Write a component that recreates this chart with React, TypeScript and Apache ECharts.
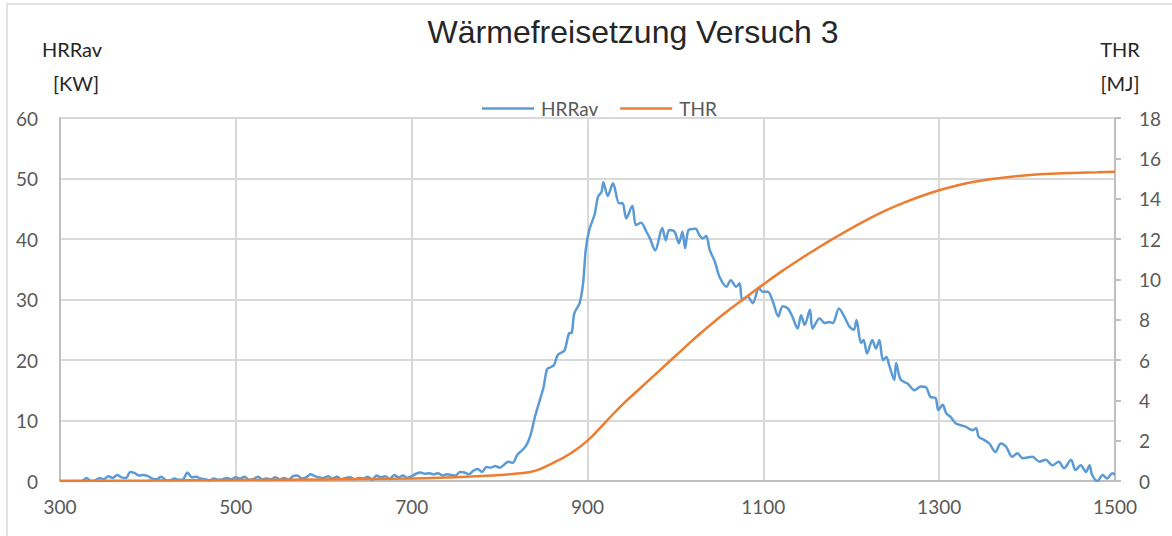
import React, { useEffect, useRef } from "react";
import * as echarts from "echarts";

const titleText = "Wärmefreisetzung Versuch 3";
const leftAxisName = ["HRRav", "[KW]"];
const rightAxisName = ["THR", "[MJ]"];
const seriesNames = ["HRRav", "THR"];

const hrrTime = [
  300, 305, 310, 315, 320, 325, 330, 335, 340, 345, 350, 355, 360, 365, 370, 375, 380, 385, 390, 395,
  400, 405, 410, 415, 420, 425, 430, 435, 440, 445, 450, 455, 460, 465, 470, 475, 480, 485, 490, 495,
  500, 505, 510, 515, 520, 525, 530, 535, 540, 545, 550, 555, 560, 565, 570, 575, 580, 585, 590, 595,
  600, 605, 610, 615, 620, 625, 630, 635, 640, 645, 650, 655, 660, 665, 670, 675, 680, 685, 690, 695,
  700, 705, 710, 715, 720, 725, 730, 735, 740, 745, 750, 755, 760, 765, 770, 775, 780, 785, 790, 795,
  800, 805, 810, 815, 820, 825, 830, 835, 840, 845, 850, 854, 858, 862, 866, 870, 874, 879, 882, 885,
  891, 895, 898, 902, 908, 912, 916, 918, 923, 929, 936, 940, 944, 951, 955, 961, 967, 971, 977, 985,
  989, 993, 999, 1004, 1008, 1011, 1015, 1023, 1027, 1031, 1035, 1039, 1045, 1050, 1058, 1063, 1069, 1073, 1076, 1082,
  1088, 1095, 1099, 1105, 1111, 1117, 1122, 1128, 1133, 1139, 1143, 1147, 1153, 1156, 1164, 1170, 1175, 1179, 1186, 1192,
  1198, 1203, 1206, 1211, 1214, 1218, 1224, 1228, 1232, 1236, 1240, 1243, 1249, 1251, 1256, 1264, 1272, 1279, 1285, 1290,
  1296, 1299, 1304, 1308, 1313, 1319, 1330, 1338, 1342, 1345, 1351, 1357, 1364, 1370, 1376, 1383, 1389, 1395, 1406, 1414,
  1421, 1429, 1436, 1442, 1450, 1455, 1461, 1467, 1471, 1474, 1480, 1486, 1491, 1497, 1500,
];
const hrrValue = [
  0, 0, 0, 0, 0, 0, 0.5, 0, 0.1, 0.5, 0.3, 0.8, 0.5, 1.0, 0.6, 0.5, 1.5, 1.3, 0.9, 1.0,
  0.8, 0.4, 0.3, 0.7, 0.2, 0.1, 0.4, 0.2, 0.3, 1.4, 0.6, 0.7, 0.4, 0.3, 0.1, 0.4, 0.2, 0.3, 0.5, 0.3,
  0.6, 0.4, 0.7, 0.2, 0.3, 0.7, 0.3, 0.4, 0.3, 0.6, 0.3, 0.5, 0.2, 0.8, 0.9, 0.4, 0.6, 1.1, 0.8, 0.6,
  0.5, 0.8, 0.4, 0.7, 0.3, 0.5, 0.6, 0.3, 0.5, 0.4, 0.7, 0.2, 0.9, 0.6, 0.8, 0.3, 1.0, 0.6, 0.9, 0.5,
  0.8, 1.2, 1.4, 1.2, 1.3, 1.1, 1.3, 0.9, 1.1, 1.0, 0.9, 1.5, 1.4, 1.1, 1.7, 2.0, 1.5, 2.3, 2.2, 2.5,
  2.2, 2.7, 3.2, 3.0, 4.3, 5.0, 5.8, 7.5, 10.5, 13.0, 15.5, 18.5, 18.8, 19.2, 20.8, 21.2, 21.6, 24.4, 24.5, 27.7,
  29.4, 32.7, 38.2, 41.5, 44, 47, 47.8, 49.4, 47.1, 49.2, 45.9, 45.9, 43.4, 45.5, 42.3, 42.7, 41.2, 40.1, 38.1, 41.8,
  39.8, 41.5, 41.2, 39.3, 41.2, 38.5, 41.5, 41.7, 40.7, 40.1, 40.5, 38.2, 36.2, 33.8, 32.1, 33.2, 32.1, 32.7, 29.9, 30.5,
  29.4, 31.9, 31.3, 31.3, 29.6, 27.2, 28.9, 28.5, 27.2, 25.2, 27.4, 25.8, 28.3, 25.2, 26.9, 26.1, 26.3, 26.1, 28.5, 27.2,
  25.5, 25, 26.6, 22.8, 23.3, 21.1, 23.3, 21.9, 23.3, 20, 20.5, 19.2, 16.7, 19.5, 16.8, 16.1, 15, 15.6, 15.5, 13.9,
  13.7, 11.7, 12.6, 11.2, 10.6, 9.5, 9, 8.4, 8.7, 7.3, 6.8, 6.2, 4.8, 6.2, 5.7, 4, 4.6, 3.75, 4, 3.2,
  3.5, 2.6, 3.2, 2.1, 3.5, 1.8, 2.6, 1.5, 2.6, 1, 0, 1, 0.4, 1.3, 1,
];

const thrTime = [
  300, 400, 500, 600, 700, 750, 800, 820, 840, 860, 880, 900, 920, 940, 960, 980, 1000, 1020, 1040, 1060,
  1080, 1100, 1120, 1140, 1160, 1180, 1200, 1220, 1240, 1260, 1280, 1300, 1320, 1340, 1360, 1380, 1400, 1420, 1440, 1460,
  1480, 1500,
];
const thrValue = [
  0, 0.02, 0.05, 0.08, 0.13, 0.18, 0.3, 0.37, 0.5, 0.88, 1.35, 2.0, 2.9, 3.8, 4.6, 5.4, 6.2, 7.0, 7.75, 8.45,
  9.1, 9.75, 10.37, 10.95, 11.5, 12.03, 12.53, 13.0, 13.43, 13.8, 14.13, 14.42, 14.65, 14.84, 14.98, 15.08, 15.16, 15.22, 15.26, 15.29,
  15.31, 15.33,
];

export default function App() {
  const ref = useRef<HTMLDivElement>(null);
  useEffect(() => {
    if (!ref.current) return;
    const chart = echarts.init(ref.current, null, { renderer: "svg" });
    const font = "Lato, 'Noto Sans', sans-serif";
    const labelColor = "#595959";
    const axisColor = "#BFBFBF";
    const gridColor = "#D9D9D9";
    chart.setOption({
      animation: false,
      backgroundColor: "#ffffff",
      textStyle: { fontFamily: font },
      grid: { left: 60, right: 57, top: 118, bottom: 55, containLabel: false },
      legend: {
        left: 477,
        top: 94,
        icon: "rect",
        itemWidth: 52,
        itemHeight: 2.5,
        itemGap: 22,
        textStyle: { color: labelColor, fontSize: 19, fontFamily: font, padding: [0, 0, 0, 2] },
        data: seriesNames,
      },
      xAxis: {
        type: "value",
        min: 300,
        max: 1500,
        interval: 200,
        axisLine: { show: true, lineStyle: { color: axisColor, width: 2 } },
        axisTick: { show: false },
        axisLabel: {
          color: labelColor,
          fontSize: 19,
          margin: 16,
          fontFamily: font,
          formatter: (v: number) => String(v),
        },
        splitLine: { show: true, lineStyle: { color: gridColor, width: 2 } },
      },
      yAxis: [
        {
          type: "value",
          min: 0,
          max: 60,
          interval: 10,
          axisLine: { show: true, lineStyle: { color: axisColor, width: 2 } },
          axisTick: { show: false },
          axisLabel: { color: labelColor, fontSize: 19, margin: 22, fontFamily: font },
          splitLine: { show: true, lineStyle: { color: gridColor, width: 2 } },
        },
        {
          type: "value",
          min: 0,
          max: 18,
          interval: 2,
          position: "right",
          axisLine: { show: true, lineStyle: { color: axisColor, width: 2 } },
          axisTick: { show: true, length: 6, lineStyle: { color: axisColor, width: 2 } },
          axisLabel: { color: labelColor, fontSize: 19, margin: 24, fontFamily: font },
          splitLine: { show: false },
        },
      ],
      graphic: [
        {
          type: "rect",
          shape: { x: 7, y: 4, width: 1180, height: 545 },
          style: { fill: "none", stroke: "#D9D9D9", lineWidth: 1.5 },
          silent: true,
        },
        {
          type: "text",
          x: 633,
          y: 32,
          style: {
            text: titleText,
            fontSize: 32,
            fontFamily: "'Liberation Sans', Arial, sans-serif",
            fill: "#262626",
            align: "center",
            verticalAlign: "middle",
          },
        },
        {
          type: "text",
          x: 72,
          y: 49,
          style: { text: leftAxisName[0], fontSize: 20, fontFamily: font, fill: "#262626", align: "center", verticalAlign: "middle" },
        },
        {
          type: "text",
          x: 76,
          y: 83,
          style: { text: leftAxisName[1], fontSize: 20, fontFamily: font, fill: "#262626", align: "center", verticalAlign: "middle" },
        },
        {
          type: "text",
          x: 1120,
          y: 49,
          style: { text: rightAxisName[0], fontSize: 20, fontFamily: font, fill: "#262626", align: "center", verticalAlign: "middle" },
        },
        {
          type: "text",
          x: 1120,
          y: 83,
          style: { text: rightAxisName[1], fontSize: 20, fontFamily: font, fill: "#262626", align: "center", verticalAlign: "middle" },
        },
      ],
      series: [
        {
          name: seriesNames[0],
          type: "line",
          yAxisIndex: 0,
          showSymbol: false,
          symbol: "none",
          smooth: 0.3,
          lineStyle: { color: "#5B9BD5", width: 2.5 },
          itemStyle: { color: "#5B9BD5" },
          data: hrrTime.map((t, i) => [t, hrrValue[i]]),
          z: 3,
        },
        {
          name: seriesNames[1],
          type: "line",
          yAxisIndex: 1,
          showSymbol: false,
          symbol: "none",
          smooth: 0.5,
          lineStyle: { color: "#ED7D31", width: 2.5 },
          itemStyle: { color: "#ED7D31" },
          data: thrTime.map((t, i) => [t, thrValue[i]]),
          z: 4,
        },
      ],
    });
    return () => chart.dispose();
  }, []);
  return (
    <div
      ref={ref}
      style={{ position: "fixed", left: 0, top: 0, width: 1172, height: 536, background: "#fff" }}
    />
  );
}
